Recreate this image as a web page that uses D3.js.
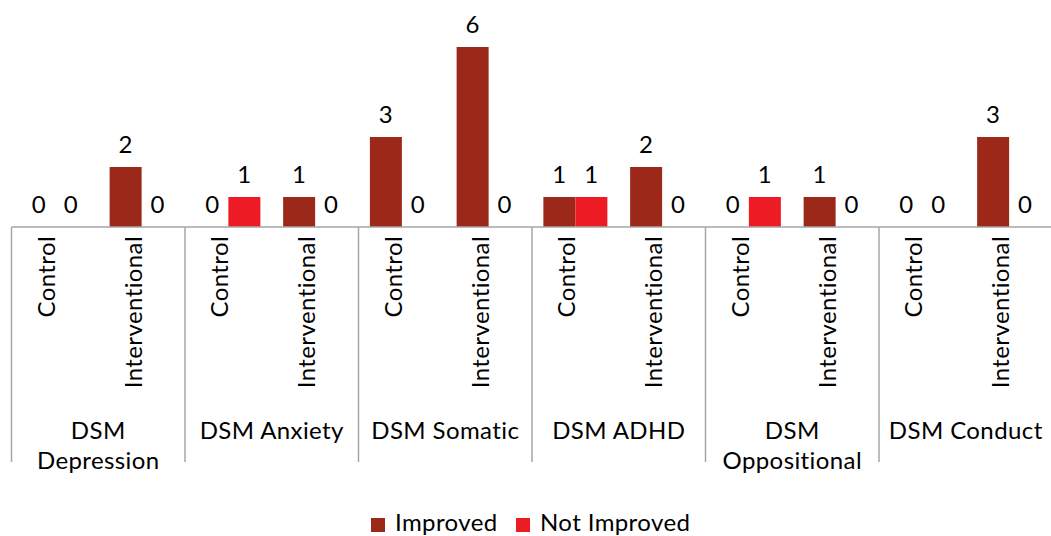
<!DOCTYPE html>
<html>
<head>
<meta charset="utf-8">
<script src="https://cdn.jsdelivr.net/npm/d3@7/dist/d3.min.js"></script>
<style>
  html, body { margin: 0; padding: 0; background: #fff; }
  svg { display: block; }
  text { font-family: "Gill Sans", "Gill Sans MT", Lato, sans-serif; fill: #000; letter-spacing: 0.4px; }
</style>
</head>
<body>
<svg id="chart" width="1051" height="536"></svg>
<script>
const groups = ["DSM Depression", "DSM Anxiety", "DSM Somatic", "DSM ADHD", "DSM Oppositional", "DSM Conduct"];
const subgroups = ["Control", "Interventional"];
const series = ["Improved", "Not Improved"];
// per group: [Control, Interventional]
const improved = [
  [0, 2], [0, 1], [3, 6], [1, 2], [0, 1], [0, 3]
];
const notImproved = [
  [0, 0], [1, 0], [0, 0], [1, 0], [1, 0], [0, 0]
];
const colors = ["#9C2819", "#ED1C24"];

const svg = d3.select("#chart");
const fontSize = 24;

const x0 = d3.scaleBand().domain(groups).range([11.5, 1052.5]).padding(0);
const x1 = d3.scaleBand().domain(subgroups).range([0, x0.bandwidth()]).padding(0);
const barW = 32;
const x2 = d3.scaleBand().domain(series).range([x1.bandwidth() / 2 - barW, x1.bandwidth() / 2 + barW]).padding(0);
const y = d3.scaleLinear().domain([0, 6]).range([227, 47]);

const rows = [];
groups.forEach((g, gi) => {
  subgroups.forEach((s, si) => {
    series.forEach((se, ki) => {
      const v = ki === 0 ? improved[gi][si] : notImproved[gi][si];
      rows.push({ g, s, se, v, ki });
    });
  });
});

// bars
svg.append("g").selectAll("rect").data(rows).join("rect")
  .attr("x", d => x0(d.g) + x1(d.s) + x2(d.se))
  .attr("width", x2.bandwidth())
  .attr("y", d => y(d.v))
  .attr("height", d => y(0) - y(d.v))
  .attr("fill", d => colors[d.ki]);

// value labels
svg.append("g").selectAll("text").data(rows).join("text")
  .attr("x", d => x0(d.g) + x1(d.s) + x2(d.se) + x2.bandwidth() / 2)
  .attr("y", d => y(d.v) - 14)
  .attr("text-anchor", "middle")
  .attr("font-size", fontSize)
  .text(d => d.v);

// axis line
const axisColor = "#A6A6A6";
svg.append("line")
  .attr("x1", x0.range()[0]).attr("x2", x0.range()[1])
  .attr("y1", y(0)).attr("y2", y(0))
  .attr("stroke", axisColor).attr("stroke-width", 1.5);

// group separators
const bounds = groups.map(g => x0(g)).concat([x0.range()[1]]);
svg.append("g").selectAll("line").data(bounds).join("line")
  .attr("x1", d => d).attr("x2", d => d)
  .attr("y1", y(0)).attr("y2", 462)
  .attr("stroke", axisColor).attr("stroke-width", 1.5);

// subgroup labels (rotated)
const subRows = [];
groups.forEach(g => subgroups.forEach(s => subRows.push({ g, s })));
svg.append("g").selectAll("text").data(subRows).join("text")
  .attr("transform", d => `translate(${x0(d.g) + x1(d.s) + x1.bandwidth() / 2},236) rotate(-90)`)
  .attr("text-anchor", "end")
  .attr("font-size", fontSize)
  .text(d => d.s);

// group labels (wrapped)
const gl = svg.append("g").selectAll("text").data(groups).join("text")
  .attr("x", d => x0(d) + x0.bandwidth() / 2)
  .attr("y", 439)
  .attr("text-anchor", "middle")
  .attr("font-size", fontSize)
  .text(d => d);
gl.each(function(d) {
  const t = d3.select(this);
  if (this.getComputedTextLength() > x0.bandwidth() - 8) {
    const words = d.split(" ");
    t.text(null);
    words.forEach((w, i) => {
      t.append("tspan").attr("x", x0(d) + x0.bandwidth() / 2).attr("dy", i === 0 ? 0 : 30).text(w);
    });
  }
});

// legend
const legend = svg.append("g");
const legX = [371, 516];
series.forEach((s, i) => {
  legend.append("rect").attr("x", legX[i]).attr("y", 518).attr("width", 14).attr("height", 14).attr("fill", colors[i]);
  legend.append("text").attr("x", legX[i] + 24).attr("y", 531).attr("font-size", fontSize).text(s);
});
</script>
</body>
</html>
